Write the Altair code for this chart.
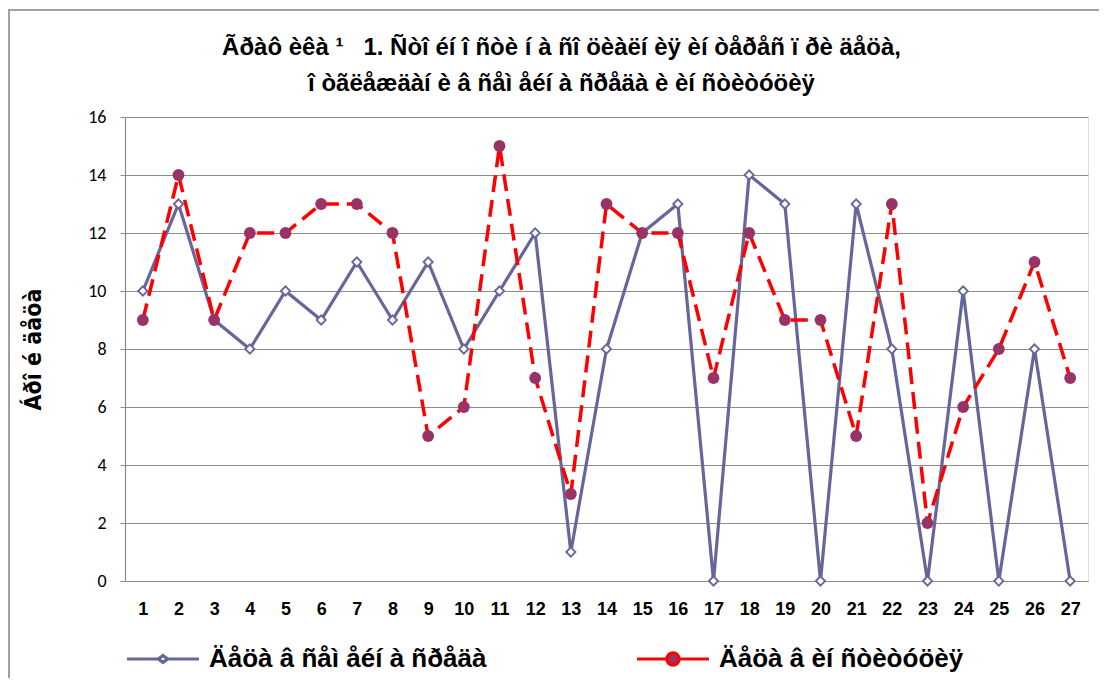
import altair as alt
import pandas as pd

categories = list(range(1, 28))
family_values = [10, 13, 9, 8, 10, 9, 11, 9, 11, 8, 10, 12, 1, 8, 12, 13, 0, 14, 13, 0, 13, 8, 0, 10, 0, 8, 0]
institution_values = [9, 14, 9, 12, 12, 13, 13, 12, 5, 6, 15, 7, 3, 13, 12, 12, 7, 12, 9, 9, 5, 13, 2, 6, 8, 11, 7]

series_names = ["Äåöà â ñåì åéí à ñðåäà", "Äåöà â èí ñòèòóöèÿ"]
title_lines = [
    "Ãðàô èêà ¹\u00a0\u00a0 1. Ñòî éí î ñòè í à ñî öèàëí èÿ èí òåðåñ ï ðè äåöà,",
    "î òãëåæäàí è â ñåì åéí à ñðåäà è èí ñòèòóöèÿ",
]
y_title = "Áðî é äåöà"
y_ticks = [0, 2, 4, 6, 8, 10, 12, 14, 16]

BLUE = "#66669A"
RED = "#FF0000"
PURPLE = "#993366"
SANS = "Liberation Sans, Arial, sans-serif"
NARROW = "Liberation Sans Narrow, Arial Narrow, DejaVu Sans Condensed, sans-serif"

df = pd.DataFrame(
    {
        "cat": categories * 2,
        "value": family_values + institution_values,
        "series": [series_names[0]] * len(categories) + [series_names[1]] * len(categories),
    }
)

x_enc = alt.X(
    "cat:O",
    title=None,
    scale=alt.Scale(paddingInner=0, paddingOuter=0),
    axis=alt.Axis(
        labelAngle=0,
        ticks=False,
        domainColor="#8c8c8c",
        domainWidth=1.2,
        labelFont=SANS,
        labelFontWeight="bold",
        labelFontSize=18,
        labelColor="#000000",
        labelPadding=19,
        grid=False,
    ),
)
y_enc = alt.Y(
    "value:Q",
    title=y_title,
    scale=alt.Scale(domain=[0, 16], nice=False),
    axis=alt.Axis(
        values=y_ticks,
        tickSize=5,
        tickColor="#8c8c8c",
        domainColor="#8c8c8c",
        domainWidth=1.2,
        gridColor="#8c8c8c",
        gridWidth=1.2,
        labelFont="Carlito, Noto Sans, sans-serif",
        labelFontSize=18,
        labelColor="#000000",
        labelPadding=14,
        titleFont=NARROW,
        titleFontSize=23,
        titleFontWeight="bold",
        titleColor="#000000",
        titlePadding=42,
    ),
)

color_scale = alt.Scale(domain=series_names, range=[BLUE, RED])
fill_scale = alt.Scale(domain=series_names, range=["#ffffff", PURPLE])
diamond_path = "M-1,0L-0.13,0M0.13,0L1,0M-0.13,0L0,-0.1L0.13,0L0,0.1Z"
circle_path = "M-1,0L-0.17,0M0.17,0L1,0M-0.17,0A0.17,0.17,0,1,0,0.17,0A0.17,0.17,0,1,0,-0.17,0Z"
shape_scale = alt.Scale(domain=series_names, range=[diamond_path, circle_path])

legend = alt.Legend(
    title=None,
    orient="none",
    direction="horizontal",
    legendX=0,
    legendY=504,
    padding=0,
    symbolSize=5184,
    symbolStrokeWidth=3.2,
    labelFont=SANS,
    labelFontSize=26,
    labelFontWeight="bold",
    labelColor="#000000",
    labelLimit=600,
    labelOffset=8,
    columnPadding=143,
)

base = alt.Chart(df).encode(x=x_enc, y=y_enc)

line_a = base.transform_filter(alt.datum.series == series_names[0]).mark_line(strokeWidth=3.2, color=BLUE)
pts_a = base.transform_filter(alt.datum.series == series_names[0]).mark_point(
    shape="diamond", filled=True, fill="#ffffff", stroke=BLUE, strokeWidth=1.8, size=85, opacity=1
)
line_b = base.transform_filter(alt.datum.series == series_names[1]).mark_line(
    strokeWidth=3.5, strokeDash=[17, 8], color=RED
)
pts_b = base.transform_filter(alt.datum.series == series_names[1]).mark_circle(
    color=PURPLE, size=140, opacity=1
)

legend_layer = (
    alt.Chart(df)
    .transform_filter("false")
    .mark_point(opacity=1, strokeWidth=3.2)
    .encode(
        x=x_enc,
        y=y_enc,
        color=alt.Color("series:N", scale=color_scale, legend=legend),
        fill=alt.Fill("series:N", scale=fill_scale, legend=legend),
        shape=alt.Shape("series:N", scale=shape_scale, legend=legend),
    )
)

border = alt.Chart(df).mark_rect(fill=None, stroke="#a0a0a0", strokeWidth=1.5).encode(
    x=alt.value(-116), x2=alt.value(1200), y=alt.value(-107), y2=alt.value(700)
)

chart = (
    alt.layer(border, line_a, pts_a, line_b, pts_b, legend_layer)
    .properties(
        width=963,
        height=464,
        autosize=alt.AutoSizeParams(type="none"),
        padding={"left": 117, "top": 109, "right": 11, "bottom": 97},
        title=alt.TitleParams(
            text=title_lines,
            anchor="middle",
            frame="group",
            dx=-45,
            dy=87,
            offset=0,
            font=SANS,
            fontSize=24,
            fontWeight="bold",
            color="#000000",
            lineHeight=36,
        ),
    )
    .configure_view(stroke=None)
    .configure(background="#ffffff")
)

chart.save("out.html", embed_options={"renderer": "svg", "actions": False})
